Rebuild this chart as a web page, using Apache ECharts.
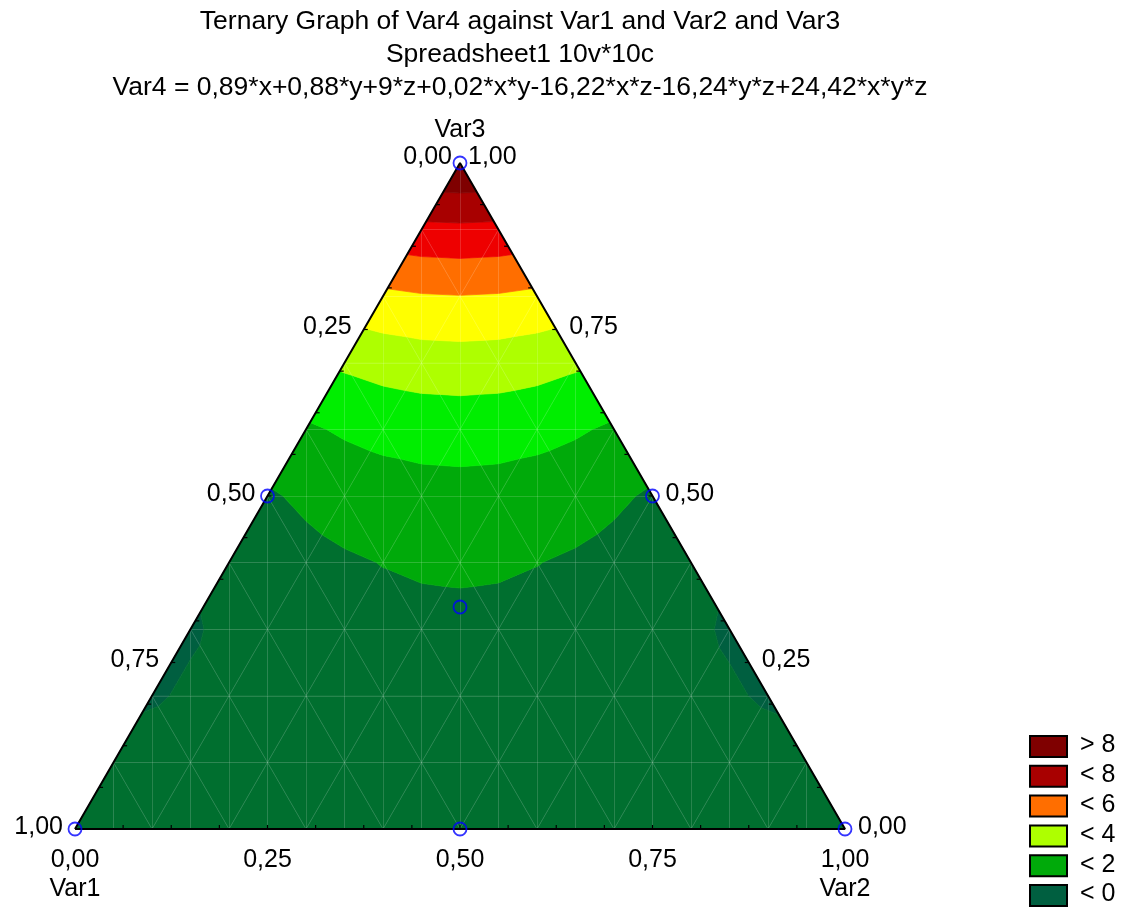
<!DOCTYPE html>
<html>
<head>
<meta charset="utf-8">
<script src="https://cdn.jsdelivr.net/npm/echarts@6/dist/echarts.min.js"></script>
<style>
  html, body { margin: 0; padding: 0; background: #ffffff; }
  #chart { width: 1131px; height: 908px; }
</style>
</head>
<body>
<div id="chart"></div>
<script>
// Fitted special-cubic mixture model for Var4 (x = Var1, y = Var2, z = Var3):
// Var4 = b1*x + b2*y + b3*z + b12*x*y + b13*x*z + b23*y*z + b123*x*y*z
const modelCoefs = [0.89, 0.88, 9, 0.02, -16.22, -16.24, 24.42];

// Contour band edges and the fill of each band, lowest band first
const contourLevels = [0, 1, 2, 3, 4, 5, 6, 7, 8];
const bandColors = ['#005f40', '#006f2f', '#00aa0a', '#00ee00', '#aeff00',
                    '#ffff00', '#ff6e00', '#ee0000', '#a80000', '#7f0000'];

// Legend entries (top to bottom)
const legendLabels = ['> 8', '< 8', '< 6', '< 4', '< 2', '< 0'];
const legendColors = ['#7f0000', '#a80000', '#ff6e00', '#aeff00', '#00aa0a', '#005f40'];

// Design points of the mixture experiment
const pointVar1 = [1, 0, 0, 0.5, 0.5, 0, 1 / 3];
const pointVar2 = [0, 1, 0, 0.5, 0, 0.5, 1 / 3];
const pointVar3 = [0, 0, 1, 0, 0.5, 0.5, 1 / 3];

// Axis ticks
const tickValues = [0, 0.25, 0.5, 0.75, 1];
const tickLabels = ['0,00', '0,25', '0,50', '0,75', '1,00'];
const minorTickCount = 16;
const meshDivisions = 10;

const titleLines = [
  'Ternary Graph of Var4 against Var1 and Var2 and Var3',
  'Spreadsheet1 10v*10c',
  'Var4 = 0,89*x+0,88*y+9*z+0,02*x*y-16,22*x*z-16,24*y*z+24,42*x*y*z'
];

const H = Math.sqrt(3) / 2;
const FONT = "'Liberation Sans', Arial, sans-serif";

// ternary (Var1, Var2, Var3) -> plane coordinates of the triangle
function toXY(a, b, c) { return [b + c / 2, c * H]; }

function model(x, y, z) {
  const k = modelCoefs;
  return k[0] * x + k[1] * y + k[2] * z + k[3] * x * y + k[4] * x * z + k[5] * y * z + k[6] * x * y * z;
}

// mesh node: b = j/N, c = k/N (fractional j allowed for edge midpoints)
function node(j, k) {
  const N = meshDivisions;
  const b = j / N, c = k / N, a = 1 - b - c;
  const p = toXY(a, b, c);
  return { x: p[0], y: p[1], f: model(Math.max(a, 0), b, c) };
}

// Each mesh triangle is split along its vertical median into two cells
const cells = [];
for (let k = 0; k < meshDivisions; k++) {
  for (let j = 0; j + k <= meshDivisions - 1; j++) {
    const p0 = node(j, k), p1 = node(j + 1, k), p2 = node(j, k + 1), m = node(j + 0.5, k);
    cells.push([p0, m, p2], [m, p1, p2]);
    if (j + k <= meshDivisions - 2) {
      const q0 = node(j, k + 1), q1 = node(j + 1, k + 1), q2 = node(j + 1, k), mm = node(j + 0.5, k + 1);
      cells.push([q0, mm, q2], [mm, q1, q2]);
    }
  }
}

// Clip a polygon of field samples to one side of a level (linear interpolation)
function clip(poly, level, keepAbove) {
  const out = [];
  const inside = p => keepAbove ? p.f >= level : p.f <= level;
  for (let i = 0; i < poly.length; i++) {
    const p = poly[i], q = poly[(i + 1) % poly.length];
    const pin = inside(p), qin = inside(q);
    if (pin) out.push(p);
    if (pin !== qin) {
      const t = (level - p.f) / (q.f - p.f);
      out.push({ x: p.x + t * (q.x - p.x), y: p.y + t * (q.y - p.y), f: level });
    }
  }
  return out;
}

// Filled band pieces
const bandPieces = [];
cells.forEach(cell => {
  for (let m = 0; m <= contourLevels.length; m++) {
    let poly = cell;
    if (m > 0) poly = clip(poly, contourLevels[m - 1], true);
    if (poly.length >= 3 && m < contourLevels.length) poly = clip(poly, contourLevels[m], false);
    if (poly.length >= 3) bandPieces.push({ band: m, pts: poly.map(p => [p.x, p.y]) });
  }
});

// Mesh lines (three ternary families plus verticals through the edge midpoints)
const meshLines = [];
for (let i = 1; i < meshDivisions; i++) {
  const t = i / meshDivisions;
  meshLines.push({ coords: [toXY(1 - t, 0, t), toXY(0, 1 - t, t)] });
  meshLines.push({ coords: [toXY(1 - t, t, 0), toXY(0, t, 1 - t)] });
  meshLines.push({ coords: [toXY(t, 1 - t, 0), toXY(t, 0, 1 - t)] });
}
for (let i = 1; i < 2 * meshDivisions; i++) {
  const x = i / (2 * meshDivisions);
  const top = x <= 0.5 ? 2 * x * H : 2 * (1 - x) * H;
  meshLines.push({ coords: [[x, 0], [x, top]] });
}

const outline = [toXY(1, 0, 0), toXY(0, 1, 0), toXY(0, 0, 1), toXY(1, 0, 0)];

// Minor ticks along the three edges, pointing inside
const ticks = [];
for (let i = 1; i < minorTickCount; i++) {
  const t = i / minorTickCount;
  ticks.push({ p: toXY(1 - t, 0, t), dx: 4, dy: 0 });   // left edge
  ticks.push({ p: toXY(0, 1 - t, t), dx: -4, dy: 0 });  // right edge
  ticks.push({ p: toXY(1 - t, t, 0), dx: 0, dy: -4 });  // bottom edge
}

// Axis labels and names
const labels = [];
tickValues.forEach((t, i) => {
  const apex = t === 0;
  labels.push({ p: toXY(t, 0, 1 - t), text: tickLabels[i], align: 'right', dx: apex ? -8 : -12, dy: apex ? -6 : -2 });
});
tickValues.forEach((t, i) => {
  const apex = t === 1;
  labels.push({ p: toXY(0, 1 - t, t), text: tickLabels[i], align: 'left', dx: apex ? 8 : 13, dy: apex ? -6 : -2 });
});
tickValues.forEach((t, i) => {
  labels.push({ p: toXY(1 - t, t, 0), text: tickLabels[i], align: 'center', dx: 0, dy: 31 });
});
labels.push({ p: toXY(1, 0, 0), text: 'Var1', align: 'center', dx: 0, dy: 60 });
labels.push({ p: toXY(0, 1, 0), text: 'Var2', align: 'center', dx: 0, dy: 60 });
labels.push({ p: toXY(0, 0, 1), text: 'Var3', align: 'center', dx: 0, dy: -33 });

const designPoints = pointVar1.map((a, i) => toXY(a, pointVar2[i], pointVar3[i]));

const chart = echarts.init(document.getElementById('chart'), null, { renderer: 'canvas' });

// Title block (three centred lines) and legend
const graphics = titleLines.map((t, i) => ({
  type: 'text', x: 520, y: 22 + i * 33,
  style: { text: t, font: '26.5px ' + FONT, fill: '#000', align: 'center', verticalAlign: 'middle' }
}));

const legendTop = 735, legendStep = 29.8;
legendLabels.forEach((lab, i) => {
  const y = legendTop + i * legendStep;
  graphics.push({
    type: 'rect', left: 1029, top: y,
    shape: { width: 37, height: 21 },
    style: { fill: legendColors[i], stroke: '#000', lineWidth: 2 }
  });
  graphics.push({
    type: 'text', left: 1080, top: y - 2,
    style: { text: lab, font: '25px ' + FONT, fill: '#000' }
  });
});

chart.setOption({
  animation: false,
  backgroundColor: '#ffffff',
  grid: { left: 75, top: 163, width: 770, height: 666 },
  xAxis: { type: 'value', min: 0, max: 1, show: false },
  yAxis: { type: 'value', min: 0, max: H, show: false },
  graphic: graphics,
  series: [
    {
      type: 'custom', coordinateSystem: 'cartesian2d', clip: false, silent: true,
      data: bandPieces.map((_, i) => [i]),
      renderItem: (params, api) => {
        const piece = bandPieces[params.dataIndex];
        const col = bandColors[piece.band];
        return {
          type: 'polygon',
          shape: { points: piece.pts.map(p => api.coord(p)) },
          style: { fill: col, stroke: col, lineWidth: 0.7 }
        };
      }
    },
    {
      type: 'lines', coordinateSystem: 'cartesian2d', silent: true,
      data: meshLines,
      lineStyle: { color: 'rgba(255,255,255,0.3)', width: 1 }
    },
    {
      type: 'line', data: outline, symbol: 'none', silent: true,
      lineStyle: { color: '#000', width: 2 }, z: 5
    },
    {
      type: 'custom', coordinateSystem: 'cartesian2d', clip: false, silent: true, z: 5,
      data: ticks.map((_, i) => [i]),
      renderItem: (params, api) => {
        const tk = ticks[params.dataIndex];
        const c = api.coord(tk.p);
        return {
          type: 'line',
          shape: { x1: c[0], y1: c[1], x2: c[0] + tk.dx, y2: c[1] + tk.dy },
          style: { stroke: '#000', lineWidth: 1.2 }
        };
      }
    },
    {
      type: 'scatter', data: designPoints, symbol: 'circle', symbolSize: 13, silent: true, z: 6,
      itemStyle: { color: 'rgba(0,0,0,0)', borderColor: '#0000ff', borderWidth: 1.8 }
    },
    {
      type: 'custom', coordinateSystem: 'cartesian2d', clip: false, silent: true, z: 7,
      data: labels.map((_, i) => [i]),
      renderItem: (params, api) => {
        const lb = labels[params.dataIndex];
        const c = api.coord(lb.p);
        return {
          type: 'text',
          x: c[0] + lb.dx, y: c[1] + lb.dy,
          style: { text: lb.text, font: '25px ' + FONT, fill: '#000', align: lb.align, verticalAlign: 'middle' }
        };
      }
    }
  ]
});
</script>
</body>
</html>
